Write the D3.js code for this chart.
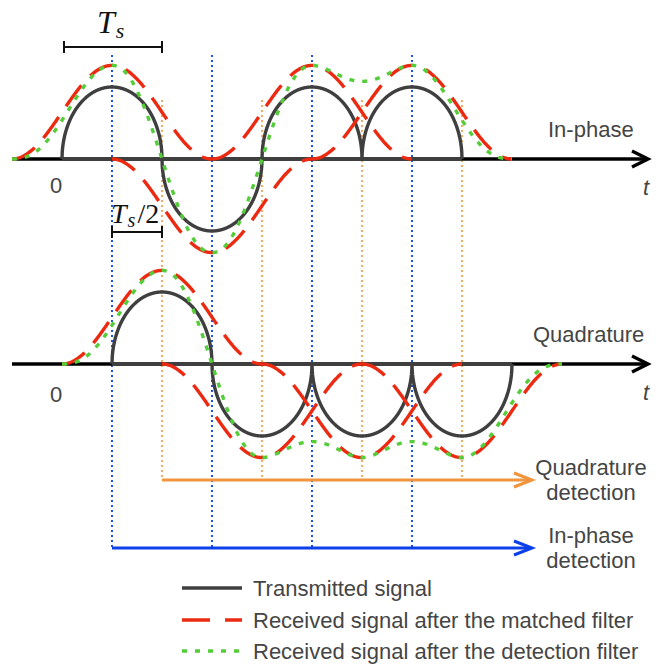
<!DOCTYPE html>
<html>
<head>
<meta charset="utf-8">
<script src="https://cdn.jsdelivr.net/npm/d3@7"></script>
<style>
  html, body { margin: 0; padding: 0; background: #fff; }
  svg { display: block; }
</style>
</head>
<body>
<div id="chart"></div>
<script>
// ---------------- data (time in units of Ts) ----------------
const iStarts = [0, 1, 2, 3];          // start of each in-phase pulse
const iSymbols = [1, -1, 1, 1];        // in-phase symbol signs
const qStarts = [0.5, 1.5, 2.5, 3.5];  // start of each quadrature pulse (offset Ts/2)
const qSymbols = [1, -1, -1, -1];      // quadrature symbol signs
const transmittedAmp = 1.0;            // peak of transmitted half-pulse
const matchedAmp = 1.3;                // peak after matched filter
const detectionAmp = 1.3;              // peak after detection filter
const detectionSharpness = 1.27;       // detection pulse is narrower than matched pulse
const blueGuides = [0.5, 1.5, 2.5, 3.5];
const orangeGuides = [1, 2, 3, 4];
const channelLabels = ["In-phase", "Quadrature"];
const detectLabels = [["Quadrature", "detection"], ["In-phase", "detection"]];
const legendLabels = ["Transmitted signal", "Received signal after the matched filter", "Received signal after the detection filter"];

// ---------------- styles ----------------
const C = {
  axis: "#000", tx: "#3f3f3f", red: "#ec2a12", green: "#55cc3a",
  blue: "#1d50e6", orange: "#f0953e", text: "#454545"
};
const W = 661, H = 664;
const svg = d3.select("#chart").append("svg").attr("width", W).attr("height", H);

const x = d3.scaleLinear().domain([-0.5, 5.86]).range([12, 648]);
const yI = d3.scaleLinear().domain([-1, 1]).range([231, 87]);
const yQ = d3.scaleLinear().domain([-1, 1]).range([436, 292]);

// pulse shapes
const rc = tau => Math.abs(tau) >= 1 ? 0 : Math.pow(Math.cos(Math.PI * tau / 2), 2);
const det = tau => Math.pow(rc(tau), detectionSharpness);
const halfEllipse = u => (u <= 0 || u >= 1) ? 0 : Math.sqrt(Math.max(0, 1 - Math.pow(2 * u - 1, 2)));

const line = d3.line().x(d => x(d[0])).curve(d3.curveLinear);

// guides
const guideG = svg.append("g");
guideG.selectAll(".bg").data(blueGuides).enter().append("line")
  .attr("x1", d => x(d)).attr("x2", d => x(d)).attr("y1", 55).attr("y2", 547)
  .attr("stroke", C.blue).attr("stroke-width", 2).attr("stroke-dasharray", "2,3");
guideG.selectAll(".og").data(orangeGuides).enter().append("line")
  .attr("x1", d => x(d)).attr("x2", d => x(d)).attr("y1", 100).attr("y2", 479)
  .attr("stroke", C.orange).attr("stroke-width", 1.6).attr("stroke-dasharray", "2,3");

function drawChannel(y, starts, symbols, label, zeroBaseline, labelPos) {
  const g = svg.append("g");
  const ax = g.append("g").attr("transform", `translate(0,${y(0)})`)
    .call(d3.axisBottom(x).tickValues([]).tickSizeOuter(0));
  ax.select(".domain").attr("stroke", C.axis).attr("stroke-width", 3.4)
    .attr("d", `M${x.range()[0]},0H${x.range()[1] - 2}`);
  const tipX = x.range()[1];
  g.append("path").attr("d", `M${tipX - 16},${y(0) - 8}L${tipX},${y(0)}L${tipX - 16},${y(0) + 8}`)
    .attr("fill", "none").attr("stroke", C.axis).attr("stroke-width", 3.4);

  // transmitted baseline + arcs
  const t0 = starts[0], t1 = starts[starts.length - 1] + 1;
  g.append("line").attr("x1", x(t0)).attr("x2", x(t1)).attr("y1", y(0)).attr("y2", y(0))
    .attr("stroke", C.tx).attr("stroke-width", 3.4);
  const txPts = [];
  starts.forEach((s, k) => {
    const N = 400;
    for (let i = 0; i <= N; i++) {
      const u = i / N;
      txPts.push([s + u, symbols[k] * transmittedAmp * halfEllipse(u)]);
    }
  });
  g.append("path").attr("d", line.y(d => y(d[1]))(txPts))
    .attr("fill", "none").attr("stroke", C.tx).attr("stroke-width", 3.4);

  // matched filter pulses (each drawn separately)
  starts.forEach((s, k) => {
    const c = s + 0.5, pts = [];
    for (let i = 0; i <= 300; i++) {
      const t = c - 1 + 2 * i / 300;
      pts.push([t, symbols[k] * matchedAmp * rc(t - c)]);
    }
    g.append("path").attr("d", line.y(d => y(d[1]))(pts))
      .attr("fill", "none").attr("stroke", C.red).attr("stroke-width", 3.4)
      .attr("stroke-dasharray", "26,13");
  });

  // detection filter sum
  const gs = starts[0] - 0.5, ge = starts[starts.length - 1] + 1.5, gp = [];
  for (let i = 0; i <= 800; i++) {
    const t = gs + (ge - gs) * i / 800;
    let v = 0;
    starts.forEach((s, k) => { v += symbols[k] * detectionAmp * det(t - (s + 0.5)); });
    gp.push([t, v]);
  }
  g.append("path").attr("d", line.y(d => y(d[1]))(gp))
    .attr("fill", "none").attr("stroke", C.green).attr("stroke-width", 3.4)
    .attr("stroke-dasharray", "5,8");

  g.append("text").attr("x", labelPos[0]).attr("y", labelPos[1])
    .attr("font-family", "Liberation Sans, Arial, sans-serif").attr("font-size", 22)
    .attr("fill", C.text).text(label);
  g.append("text").attr("x", 646).attr("y", y(0) + 36).attr("text-anchor", "middle")
    .attr("font-family", "Liberation Sans, Arial, sans-serif").attr("font-size", 22)
    .attr("font-style", "italic").attr("fill", C.text).text("t");
  g.append("text").attr("x", x(0) - 6).attr("y", zeroBaseline).attr("text-anchor", "middle")
    .attr("font-family", "Liberation Sans, Arial, sans-serif").attr("font-size", 22)
    .attr("fill", C.text).text("0");
}

drawChannel(yI, iStarts, iSymbols, channelLabels[0], 193, [548, 137]);
drawChannel(yQ, qStarts, qSymbols, channelLabels[1], 402, [533, 342]);

// Ts brackets
function bracket(x1, x2, yb, h) {
  const g = svg.append("g").attr("stroke", "#111").attr("stroke-width", 2);
  g.append("line").attr("x1", x1).attr("x2", x2).attr("y1", yb).attr("y2", yb);
  g.append("line").attr("x1", x1).attr("x2", x1).attr("y1", yb - h).attr("y2", yb + h);
  g.append("line").attr("x1", x2).attr("x2", x2).attr("y1", yb - h).attr("y2", yb + h);
}
bracket(x(0) + 2, x(1), 47, 6);
bracket(x(0.5), x(1), 232, 6);

const ts = svg.append("text").attr("x", 97).attr("y", 33)
  .attr("font-family", "Liberation Serif, Times New Roman, serif").attr("font-size", 32).attr("fill", "#111");
ts.append("tspan").attr("font-style", "italic").text("T");
ts.append("tspan").attr("font-style", "italic").attr("font-size", 22).attr("dy", 5).attr("dx", 1).text("s");

const ts2 = svg.append("text").attr("x", 111).attr("y", 223)
  .attr("font-family", "Liberation Serif, Times New Roman, serif").attr("font-size", 28).attr("fill", "#111");
ts2.append("tspan").attr("font-style", "italic").text("T");
ts2.append("tspan").attr("font-style", "italic").attr("font-size", 20).attr("dy", 4).attr("dx", 1).text("s");
ts2.append("tspan").attr("dy", -4).attr("dx", 2).text("/2");

// detection arrows
function hArrow(x1, x2, yy, col) {
  const g = svg.append("g").attr("stroke", col).attr("stroke-width", 3).attr("fill", "none");
  g.append("line").attr("x1", x1).attr("x2", x2 - 2).attr("y1", yy).attr("y2", yy);
  g.append("path").attr("d", `M${x2 - 18},${yy - 7}L${x2},${yy}L${x2 - 18},${yy + 7}`);
}
hArrow(x(1), 532, 480, C.orange);
hArrow(x(0.5), 532, 548, "#0b40ea");

const detY = [[475, 500], [543, 568]];
detectLabels.forEach((lines, i) => {
  lines.forEach((s, j) => {
    svg.append("text").attr("x", 591).attr("y", detY[i][j]).attr("text-anchor", "middle")
      .attr("font-family", "Liberation Sans, Arial, sans-serif").attr("font-size", 22)
      .attr("fill", C.text).text(s);
  });
});

// legend
const legY = [588, 620, 651];
const legStyles = [
  { col: C.tx, dash: null }, { col: C.red, dash: "28,15" }, { col: C.green, dash: "5,8" }
];
legendLabels.forEach((s, i) => {
  svg.append("line").attr("x1", 182).attr("x2", 242).attr("y1", legY[i]).attr("y2", legY[i])
    .attr("stroke", legStyles[i].col).attr("stroke-width", 3.4)
    .attr("stroke-dasharray", legStyles[i].dash);
  svg.append("text").attr("x", 253).attr("y", legY[i] + 8)
    .attr("font-family", "Liberation Sans, Arial, sans-serif").attr("font-size", 22)
    .attr("fill", C.text).text(s);
});
</script>
</body>
</html>
